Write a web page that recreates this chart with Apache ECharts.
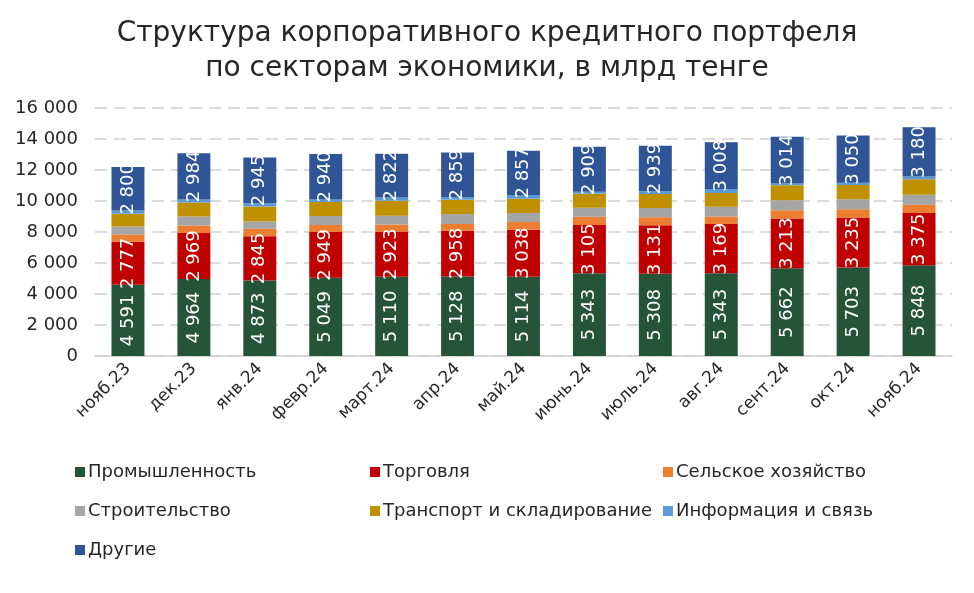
<!DOCTYPE html>
<html><head><meta charset="utf-8">
<script src="https://cdn.jsdelivr.net/npm/echarts@6/dist/echarts.min.js"></script>
<style>html,body{margin:0;padding:0;background:#fff}#c{width:974px;height:593px}</style>
</head><body><div id="c"></div>
<script>
const categories = ['нояб.23','дек.23','янв.24','февр.24','март.24','апр.24','май.24','июнь.24','июль.24','авг.24','сент.24','окт.24','нояб.24'];
const promyshlennost = [4591,4964,4873,5049,5110,5128,5114,5343,5308,5343,5662,5703,5848];
const torgovlya = [2777,2969,2845,2949,2923,2958,3038,3105,3131,3169,3213,3235,3375];
const selskoe = [475,490,490,450,450,430,490,535,515,490,535,535,535];
const stroitelstvo = [515,580,470,580,560,640,580,580,600,620,640,640,640];
const transport = [815,900,965,900,980,920,920,900,900,900,965,920,1010];
const informatsiya = [215,190,215,170,200,190,250,130,170,257,110,150,170];
const drugie = [2800,2984,2945,2940,2822,2859,2857,2909,2939,3008,3014,3050,3180];
const yTicks = [0,2000,4000,6000,8000,10000,12000,14000,16000];

const FONT = 'DejaVu Sans';
const fmt = v => String(v).replace(/\B(?=(\d{3})+(?!\d))/g, ' ');
const labelCfg = {show:true, position:'inside', rotate:90, color:'#fff', fontSize:18, fontFamily:FONT, formatter:p=>fmt(p.value)};

const seriesDefs = [
  {name:'Промышленность', data:promyshlennost, color:'#255438', label:true},
  {name:'Торговля', data:torgovlya, color:'#C00000', label:true},
  {name:'Сельское хозяйство', data:selskoe, color:'#ED7D31'},
  {name:'Строительство', data:stroitelstvo, color:'#A5A5A5'},
  {name:'Транспорт и складирование', data:transport, color:'#BF9000'},
  {name:'Информация и связь', data:informatsiya, color:'#5B9BD5'},
  {name:'Другие', data:drugie, color:'#2F5597', label:true}
];
const legendPos = [[70,458],[365,458],[658,458],[70,497],[365,497],[658,497],[70,536]];

const chart = echarts.init(document.getElementById('c'), null, {renderer:'canvas'});
chart.setOption({
  animation:false,
  textStyle:{fontFamily:FONT},
  title:{text:'Структура корпоративного кредитного портфеля\nпо секторам экономики, в млрд тенге', left:'center', top:11,
    textStyle:{fontFamily:FONT, fontSize:28, fontWeight:'normal', color:'#262626', lineHeight:35}},
  legend: seriesDefs.map((s,i)=>({data:[s.name], left:legendPos[i][0], top:legendPos[i][1], itemWidth:10, itemHeight:10, itemGap:4, icon:'rect',
    textStyle:{fontFamily:FONT, fontSize:18, color:'#262626', padding:[0,0,0,-2]}})),
  grid:{left:95, right:22, top:108, bottom:237},
  xAxis:{type:'category', data:categories, axisTick:{show:false},
    axisLine:{lineStyle:{color:'#D0D0D0', width:1.5}},
    axisLabel:{rotate:45, fontSize:17, color:'#262626', fontFamily:FONT, margin:10}},
  yAxis:{type:'value', min:yTicks[0], max:yTicks[yTicks.length-1], interval:2000,
    axisLabel:{fontSize:18, color:'#262626', fontFamily:FONT, margin:17, formatter:v=>fmt(v)},
    splitLine:{lineStyle:{color:'#D0D0D0', type:[12,7], width:1.5}}},
  series: seriesDefs.map(s=>({name:s.name, type:'bar', stack:'t', data:s.data, barCategoryGap:'50%',
    itemStyle:{color:s.color}, label: s.label ? labelCfg : {show:false}}))
});
</script></body></html>
